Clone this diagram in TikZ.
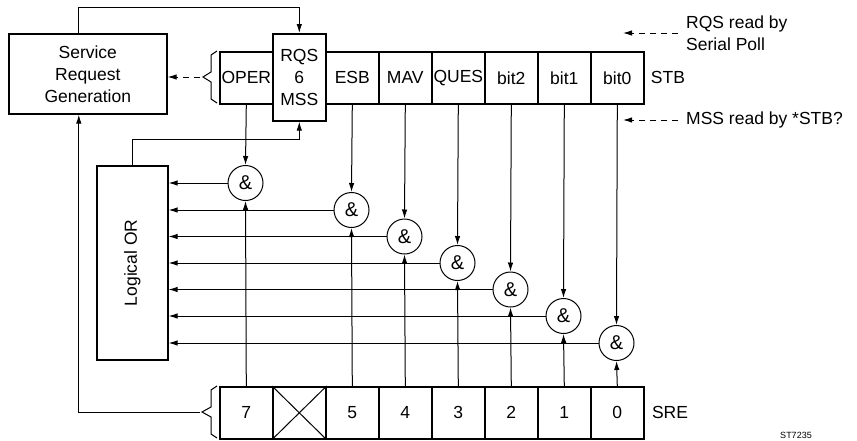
\documentclass[tikz,border=0pt]{standalone}
\usepackage{fontspec}
\setmainfont{Liberation Sans}
\usetikzlibrary{arrows.meta}
\begin{document}
\begin{tikzpicture}[x=1pt,y=-1pt,
 font=\fontsize{17.5}{22}\selectfont,
 box/.style={draw, line width=1.6pt, inner sep=0pt},
 cell/.style={box, minimum width=53pt, minimum height=52pt, anchor=north west},
 gate/.style={draw, circle, line width=1pt, minimum size=35pt, inner sep=0pt, font=\fontsize{20}{22}\selectfont},
 conn/.style={line width=1pt},
 arr/.style={conn, -{Latex[length=9pt,width=5.5pt]}},
 darr/.style={arr, dash pattern=on 6pt off 5pt}
]
\useasboundingbox (0,0) rectangle (857,440);

% Service Request Generation
\node[box, minimum width=158pt, minimum height=80pt, align=center, anchor=north west] (srg) at (8,33) {Service\\Request\\Generation};

% STB register
\node[cell] (oper) at (219,51) {OPER};
\node[cell] (esb)  at (325,51) {ESB};
\node[cell] (mav)  at (378,51) {MAV};
\node[cell] (ques) at (431,51) {QUES};
\node[cell] (b2)   at (484,51) {bit2};
\node[cell] (b1)   at (537,51) {bit1};
\node[cell] (b0)   at (590,51) {bit0};
\node[box, minimum width=53pt, minimum height=87pt, anchor=north west, align=center, fill=white] (rqs) at (272,33) {RQS\\6\\MSS};
\node (stb) at (668,77) {STB};

% SRE register
\node[cell] (s7) at (219,386) {7};
\node[cell] (sx) at (272,386) {};
\node[cell] (s5) at (325,386) {5};
\node[cell] (s4) at (378,386) {4};
\node[cell] (s3) at (431,386) {3};
\node[cell] (s2) at (484,386) {2};
\node[cell] (s1) at (537,386) {1};
\node[cell] (s0) at (590,386) {0};
\draw[conn] (sx.north west) -- (sx.south east) (sx.north east) -- (sx.south west);
\node (sre) at (670,412) {SRE};

% Logical OR
\node[box, minimum width=71pt, minimum height=194pt, anchor=north west] (or) at (96,165) {};
\node[rotate=90] (orl) at (or.center) {Logical OR};

% AND gates
\node[gate] (a0) at (245.5,183) {\&};
\node[gate] (a1) at (351.5,210) {\&};
\node[gate] (a2) at (404.5,236.5) {\&};
\node[gate] (a3) at (457.5,263) {\&};
\node[gate] (a4) at (510.5,289.5) {\&};
\node[gate] (a5) at (563.5,316) {\&};
\node[gate] (a6) at (616.5,343) {\&};

% inputs from STB
\draw[arr] (oper.south) -- (a0.north);
\draw[arr] (esb.south) -- (a1.north);
\draw[arr] (mav.south) -- (a2.north);
\draw[arr] (ques.south) -- (a3.north);
\draw[arr] (b2.south) -- (a4.north);
\draw[arr] (b1.south) -- (a5.north);
\draw[arr] (b0.south) -- (a6.north);

% inputs from SRE
\draw[arr] (s7.north) -- (a0.south);
\draw[arr] (s5.north) -- (a1.south);
\draw[arr] (s4.north) -- (a2.south);
\draw[arr] (s3.north) -- (a3.south);
\draw[arr] (s2.north) -- (a4.south);
\draw[arr] (s1.north) -- (a5.south);
\draw[arr] (s0.north) -- (a6.south);

% outputs to OR
\foreach \g in {a0,a1,a2,a3,a4,a5,a6}
  \draw[arr] (\g.west) -- (\g.west -| or.east);

% OR to RQS/MSS
\draw[arr] (or.north) -- ++(0,-26) -| (rqs.south);

% SRG to RQS
\coordinate (srgtop) at ([xshift=-9pt]srg.north);
\draw[arr] (srgtop) -- ++(0,-26) -| (rqs.north);

% STB brace and dashed arrow
\draw[conn] (217,51) -- (211,55) -- (211,72) -- (203,77) -- (211,82) -- (211,99) -- (217,103);
\coordinate (stbtip) at (200,77);
\draw[darr] (stbtip) -- (stbtip -| srg.east);

% SRE brace and connector
\draw[conn] (217,386) -- (211,390) -- (211,407) -- (202,412) -- (211,417) -- (211,434) -- (217,438);
\coordinate (sretip) at (200,412);
\coordinate (srgbot) at ([xshift=-9pt]srg.south);
\draw[arr] (sretip) -| (srgbot);

% notes
\node[anchor=west, align=left, inner sep=0pt] (rqsnote) at (686,33) {RQS read by\\Serial Poll};
\coordinate (rqsend) at (623,33);
\draw[darr] ([xshift=-8pt]rqsnote.west) -- (rqsend);
\node[anchor=west, inner sep=0pt] (mssnote) at (686,120) {MSS read by *STB?};
\coordinate (mssend) at (623,120);
\draw[darr] ([xshift=-8pt]mssnote.west) -- (mssend);

\node[font=\fontsize{9}{10}\selectfont, anchor=south, inner sep=0pt] (code) at (796,438.5) {ST7235};
\end{tikzpicture}
\end{document}
